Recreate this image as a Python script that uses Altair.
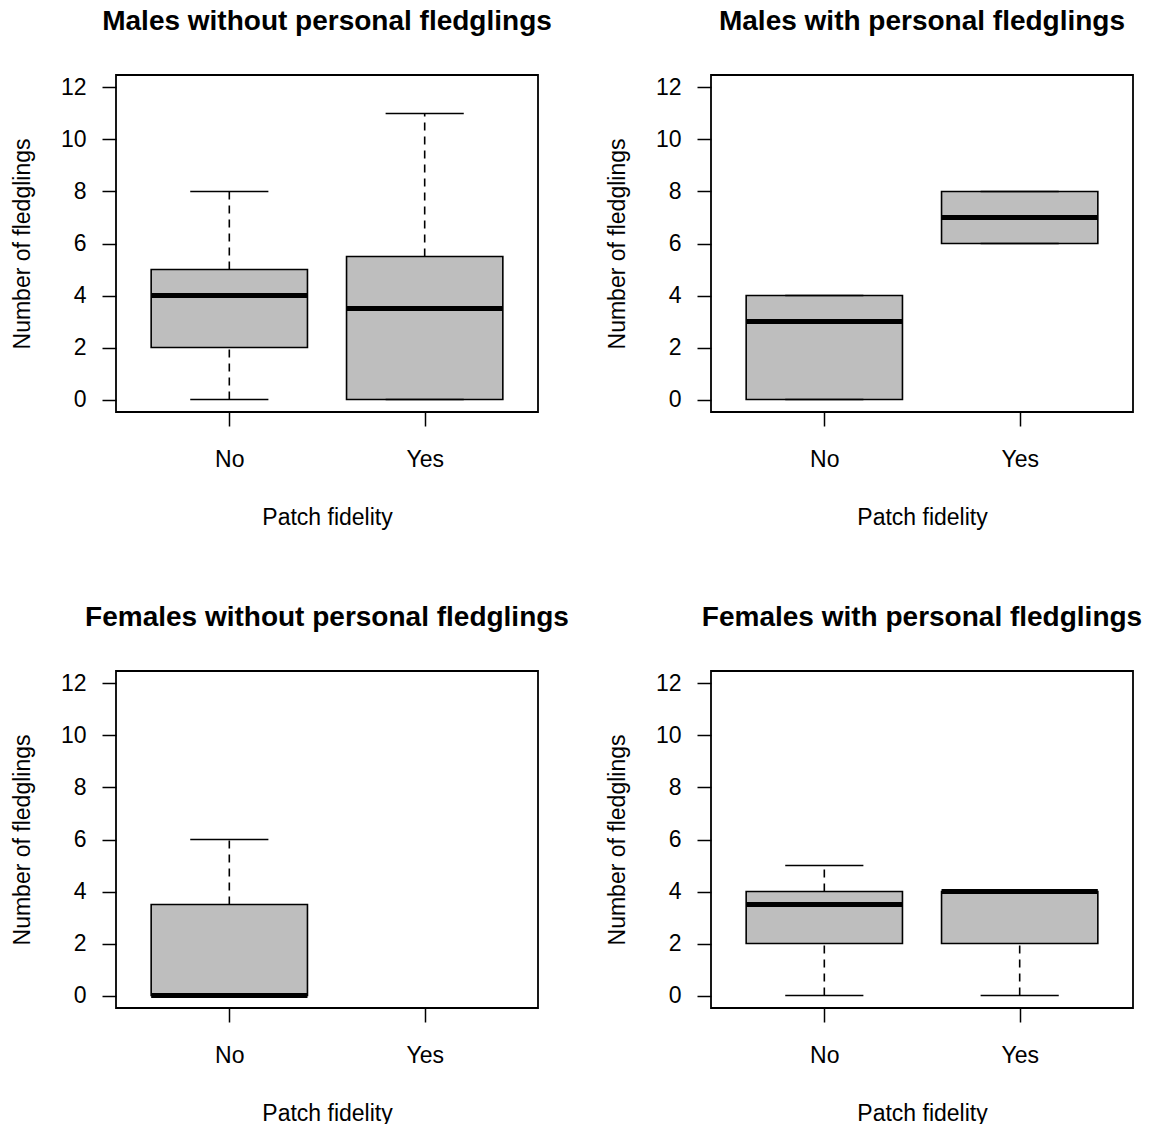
import altair as alt
import pandas as pd

# ---- data ----
panels = [
    "Males without personal fledglings",
    "Males with personal fledglings",
    "Females without personal fledglings",
    "Females with personal fledglings",
]
panel_col = panels[0:1] * 2 + panels[1:2] * 2 + panels[2:3] * 1 + panels[3:4] * 2
group_x = [1, 2, 1, 2, 1, 1, 2]          # 1 = No, 2 = Yes
w_low = [0, 0, 0, 6, 0, 0, 0]
q1 = [2, 0, 0, 6, 0, 2, 2]
median = [4, 3.5, 3, 7, 0, 3.5, 4]
q3 = [5, 5.5, 4, 8, 3.5, 4, 4]
w_high = [8, 11, 4, 8, 6, 5, 4]

x_tick_values = [1, 2]
x_tick_labels = ["No", "Yes"]
y_tick_values = [0, 2, 4, 6, 8, 10, 12]

df = pd.DataFrame({
    "panel": panel_col, "x": group_x, "lo": w_low, "q1": q1,
    "med": median, "q3": q3, "hi": w_high,
})

FONT = "Liberation Sans"
BOX_HALF = 0.4
STAPLE_HALF = 0.2

label_expr = "datum.value == 1 ? '%s' : '%s'" % tuple(x_tick_labels)

xscale = alt.Scale(domain=[0.42, 2.58], nice=False, zero=False)
yscale = alt.Scale(domain=[-0.48, 12.48], nice=False, zero=False)

xaxis = alt.Axis(values=x_tick_values, labelExpr=label_expr, title="Patch fidelity",
                 tickSize=14, tickWidth=1.5, tickColor="black", domain=False, grid=False,
                 labelFontSize=23, labelFont=FONT, labelColor="black", labelPadding=22,
                 titleFontSize=23, titleFont=FONT, titleFontWeight="normal",
                 titleColor="black", titlePadding=35)
yaxis = alt.Axis(values=y_tick_values, title="Number of fledglings",
                 tickSize=14, tickWidth=1.5, tickColor="black", domain=False, grid=False,
                 labelFontSize=23, labelFont=FONT, labelColor="black", labelPadding=16,
                 titleFontSize=23, titleFont=FONT, titleFontWeight="normal",
                 titleColor="black", titlePadding=26)


def panel(name):
    base = alt.Chart(df).transform_filter(alt.datum.panel == name).transform_calculate(
        xl="datum.x - %f" % BOX_HALF, xr="datum.x + %f" % BOX_HALF,
        sl="datum.x - %f" % STAPLE_HALF, sr="datum.x + %f" % STAPLE_HALF,
    )
    box = base.mark_rect(fill="#BEBEBE", stroke="black", strokeWidth=1.6).encode(
        x=alt.X("xl:Q", scale=xscale, axis=xaxis),
        x2="xr:Q",
        y=alt.Y("q1:Q", scale=yscale, axis=yaxis),
        y2="q3:Q",
    )
    wh_up = base.mark_rule(color="black", strokeWidth=1.6, strokeDash=[8, 6]).encode(
        x="x:Q", y="q3:Q", y2="hi:Q")
    wh_dn = base.mark_rule(color="black", strokeWidth=1.6, strokeDash=[8, 6]).encode(
        x="x:Q", y="lo:Q", y2="q1:Q")
    st_up = base.mark_rule(color="black", strokeWidth=1.6).encode(
        x="sl:Q", x2="sr:Q", y="hi:Q")
    st_dn = base.mark_rule(color="black", strokeWidth=1.6).encode(
        x="sl:Q", x2="sr:Q", y="lo:Q")
    med = base.mark_rule(color="black", strokeWidth=5).encode(
        x="xl:Q", x2="xr:Q", y="med:Q")
    return alt.layer(box, wh_up, wh_dn, st_up, st_dn, med).properties(
        width=422, height=337,
        title=alt.TitleParams(name, fontSize=28, font=FONT, fontWeight="bold",
                              color="black", anchor="middle", offset=39),
    )


chart = alt.concat(
    *[panel(p) for p in panels], columns=2,
    spacing={"row": 259, "column": 173}, bounds="flush",
).properties(
    padding={"left": 10, "top": 7, "right": 0, "bottom": 0},
    background="white",
).configure_view(stroke="black", strokeWidth=1.8)

chart.save("out.html", embed_options={"renderer": "svg", "actions": False})
